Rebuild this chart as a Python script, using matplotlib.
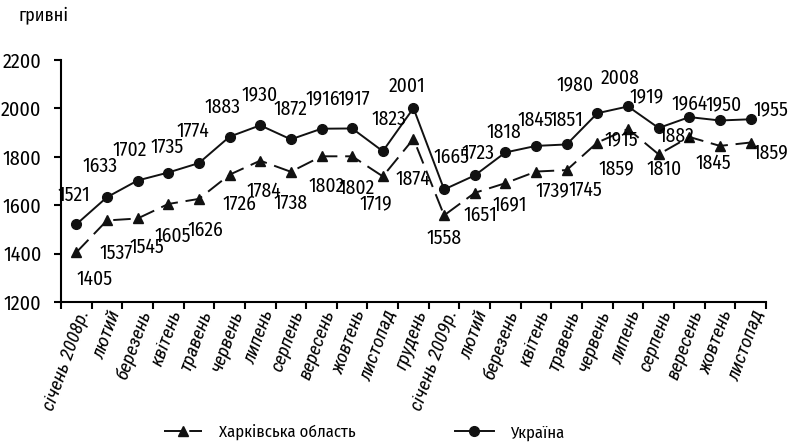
import matplotlib
matplotlib.use('Agg')
import matplotlib.pyplot as plt
import numpy as np

# Середня заробітна плата, гривні
months = ['січень 2008р.', 'лютий', 'березень', 'квітень', 'травень', 'червень',
          'липень', 'серпень', 'вересень', 'жовтень', 'листопад', 'грудень',
          'січень 2009р.', 'лютий', 'березень', 'квітень', 'травень', 'червень',
          'липень', 'серпень', 'вересень', 'жовтень', 'листопад']
kharkiv = [1405, 1537, 1545, 1605, 1626, 1726, 1784, 1738, 1802, 1802, 1719, 1874,
           1558, 1651, 1691, 1739, 1745, 1859, 1915, 1810, 1882, 1845, 1859]
ukraine = [1521, 1633, 1702, 1735, 1774, 1883, 1930, 1872, 1916, 1917, 1823, 2001,
           1665, 1723, 1818, 1845, 1851, 1980, 2008, 1919, 1964, 1950, 1955]

# label offsets in pixels (dx, dy with y down)
ukr_off = [(-2, -29), (-7, -31), (-8, -30), (-1, -25), (-6, -32), (-7, -29),
           (-1, -31), (0, -30), (1, -30), (2, -30), (6, -32), (-6, -22),
           (7, -32), (3, -22), (-2, -20), (-1, -26), (0, -24), (-22, -29),
           (-8, -28), (-12, -31), (0, -13), (4, -16), (20, -10)]
kh_off = [(18, 27), (9, 33), (9, 29), (4, 32), (6, 31), (10, 30), (4, 31),
          (0, 31), (5, 30), (4, 32), (-7, 27), (-1, 40), (0, 23), (6, 22),
          (4, 21), (16, 19), (19, 20), (19, 26), (-7, 11), (5, 15), (-13, -1),
          (-7, 17), (20, 10)]

plt.rcParams['font.family'] = ['Fira Sans Condensed', 'DejaVu Sans']

fig = plt.figure(figsize=(7.88, 4.43), dpi=100)
ax = fig.add_axes([0.0774, 0.3183, 0.8946, 0.5463])

x = np.arange(len(months))
l1, = ax.plot(x, kharkiv, color='#111111', lw=1.4, dashes=(9, 4), marker='^', ms=7)
l2, = ax.plot(x, ukraine, color='#111111', lw=1.4, marker='o', ms=7)

for i in range(len(x)):
    ax.annotate(str(ukraine[i]), (x[i], ukraine[i]), xytext=(ukr_off[i][0], -ukr_off[i][1]),
                textcoords='offset pixels', ha='center', va='center', fontsize=14)
    ax.annotate(str(kharkiv[i]), (x[i], kharkiv[i]), xytext=(kh_off[i][0], -kh_off[i][1]),
                textcoords='offset pixels', ha='center', va='center', fontsize=14)

ax.set_xlim(-0.5, len(months) - 0.5)
ax.set_ylim(1200, 2200)
ax.set_yticks(np.arange(1200, 2201, 200))
ax.set_xticks(x)
ax.set_xticklabels(months, rotation=70, ha='right', rotation_mode='anchor',
                   family=['Roboto Condensed', 'DejaVu Sans'], style='italic', fontsize=14)
ax.set_xticks(np.arange(-0.5, len(months), 1), minor=True)
ax.tick_params(axis='x', which='major', length=0, pad=4)
ax.tick_params(axis='x', which='minor', length=5, width=1.5, direction='out')
ax.tick_params(axis='y', length=5, width=1.5, labelsize=14.5, pad=9)
ax.spines['top'].set_visible(False)
ax.spines['right'].set_visible(False)
ax.spines['left'].set_linewidth(1.5)
ax.spines['bottom'].set_linewidth(1.5)

fig.text(0.023, 0.966, 'гривні', fontsize=13, ha='left', va='center')

fig.legend([l1, l2], ['Харківська область', 'Україна'], loc='center',
           bbox_to_anchor=(0.462, 0.024), ncol=2, frameon=False, fontsize=12,
           handlelength=2.3, columnspacing=6.0, handletextpad=1.0)

fig.savefig('out.png', dpi=100)
